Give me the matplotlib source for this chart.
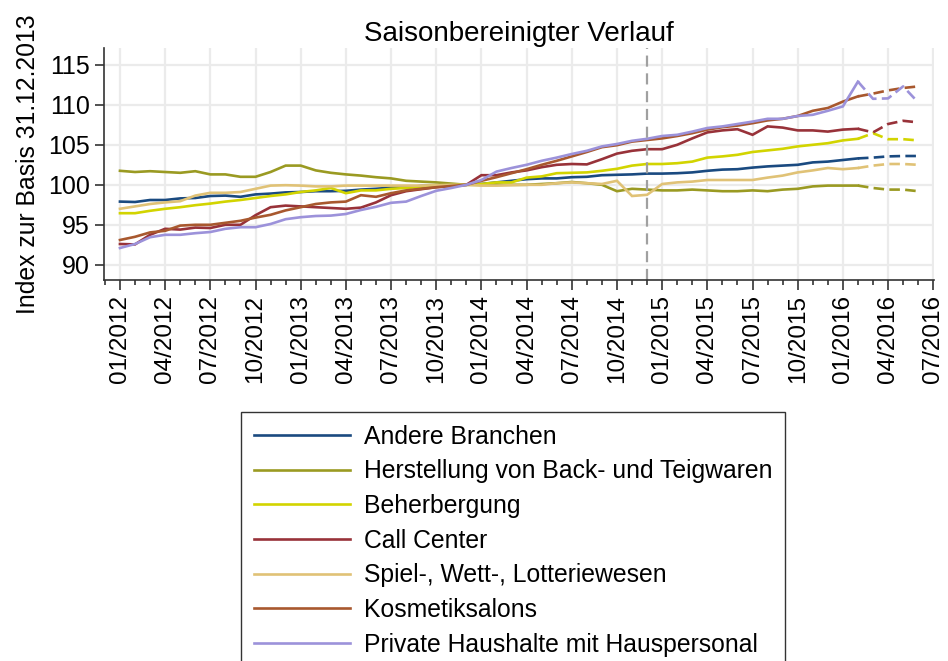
import matplotlib.pyplot as plt
from matplotlib.ticker import MultipleLocator

plt.rcParams['font.family'] = ['Liberation Sans', 'DejaVu Sans']

# Monate 01/2012 .. 06/2016 (Index 0..53), ab 02/2016 Prognose
n_months = 54
last_actual = 49
break_month = 35  # 12/2014

andere = [97.9, 97.85, 98.1, 98.1, 98.3, 98.35, 98.6, 98.65, 98.5, 98.8, 98.9, 99.05,
          99.1, 99.2, 99.2, 99.25, 99.4, 99.5, 99.65, 99.7, 99.85, 99.9, 99.95, 100.0,
          100.1, 100.3, 100.5, 100.7, 100.8, 100.8, 100.95, 101.0, 101.2, 101.25, 101.3, 101.4,
          101.4, 101.45, 101.55, 101.75, 101.9, 101.95, 102.15, 102.3, 102.4, 102.5, 102.8, 102.9,
          103.1, 103.3, 103.4, 103.55, 103.6, 103.6]
backwaren = [101.75, 101.6, 101.7, 101.6, 101.5, 101.7, 101.3, 101.3, 101.0, 101.0, 101.6, 102.4,
             102.4, 101.8, 101.5, 101.3, 101.15, 100.95, 100.8, 100.5, 100.4, 100.3, 100.15, 100.0,
             100.0, 100.0, 100.0, 100.0, 100.1, 100.2, 100.35, 100.2, 100.0, 99.2, 99.5, 99.4,
             99.3, 99.3, 99.4, 99.3, 99.2, 99.2, 99.3, 99.2, 99.4, 99.5, 99.8, 99.9,
             99.9, 99.9, 99.6, 99.4, 99.4, 99.2]
beherbergung = [96.45, 96.45, 96.75, 97.0, 97.2, 97.45, 97.65, 97.9, 98.1, 98.35, 98.6, 98.8,
                99.1, 99.3, 99.6, 98.95, 99.3, 99.3, 99.5, 99.6, 99.75, 99.9, 99.95, 100.0,
                100.1, 100.3, 100.3, 100.9, 101.05, 101.45, 101.5, 101.55, 101.75, 102.0, 102.4, 102.6,
                102.6, 102.7, 102.9, 103.4, 103.55, 103.75, 104.1, 104.3, 104.5, 104.8, 105.0, 105.2,
                105.55, 105.75, 106.45, 105.7, 105.7, 105.55]
callcenter = [92.6, 92.55, 93.75, 94.5, 94.4, 94.65, 94.6, 95.0, 95.0, 96.2, 97.2, 97.4,
              97.3, 97.2, 97.1, 97.0, 97.15, 97.8, 98.7, 99.2, 99.45, 99.7, 99.85, 100.0,
              101.2, 101.2, 101.55, 101.8, 102.2, 102.5, 102.6, 102.55, 103.2, 103.9, 104.25, 104.45,
              104.45, 105.0, 105.8, 106.55, 106.8, 106.95, 106.25, 107.3, 107.15, 106.8, 106.8, 106.65,
              106.9, 107.0, 106.55, 107.6, 108.0, 107.8]
spiel = [97.0, 97.3, 97.6, 97.8, 97.95, 98.65, 99.0, 99.0, 99.1, 99.5, 99.9, 99.95,
         99.9, 99.8, 99.8, 99.9, 99.9, 99.9, 99.9, 99.9, 99.9, 99.95, 100.0, 100.0,
         99.9, 99.9, 99.95, 100.0, 100.0, 100.2, 100.3, 100.2, 100.1, 100.5, 98.6, 98.75,
         100.1, 100.3, 100.4, 100.6, 100.6, 100.6, 100.6, 100.9, 101.15, 101.55, 101.8, 102.1,
         101.95, 102.1, 102.4, 102.6, 102.6, 102.5]
kosmetik = [93.1, 93.5, 94.05, 94.25, 94.9, 95.0, 95.0, 95.25, 95.5, 95.9, 96.25, 96.8,
            97.2, 97.6, 97.8, 97.9, 98.7, 98.5, 98.95, 99.3, 99.5, 99.7, 99.85, 100.0,
            100.5, 100.95, 101.45, 101.95, 102.5, 103.0, 103.55, 104.1, 104.7, 104.95, 105.4, 105.6,
            105.8, 106.1, 106.45, 106.9, 107.2, 107.4, 107.7, 108.05, 108.25, 108.6, 109.25, 109.6,
            110.4, 111.05, 111.4, 111.8, 112.1, 112.3]
haushalte = [92.1, 92.6, 93.45, 93.75, 93.75, 93.95, 94.1, 94.5, 94.7, 94.7, 95.1, 95.7,
             95.95, 96.1, 96.15, 96.35, 96.85, 97.25, 97.75, 97.9, 98.6, 99.25, 99.6, 100.0,
             100.6, 101.65, 102.1, 102.5, 103.0, 103.4, 103.85, 104.25, 104.8, 105.1, 105.5, 105.75,
             106.1, 106.25, 106.65, 107.1, 107.3, 107.6, 107.9, 108.25, 108.25, 108.6, 108.75, 109.25,
             109.8, 112.9, 110.75, 110.8, 112.3, 110.3]

series = [
    ("Andere Branchen", andere, "#1a4a80"),
    ("Herstellung von Back- und Teigwaren", backwaren, "#9a9a22"),
    ("Beherbergung", beherbergung, "#d2d400"),
    ("Call Center", callcenter, "#983239"),
    ("Spiel-, Wett-, Lotteriewesen", spiel, "#e0c276"),
    ("Kosmetiksalons", kosmetik, "#a8582e"),
    ("Private Haushalte mit Hauspersonal", haushalte, "#9c92da"),
]

tick_labels = ["01/2012", "04/2012", "07/2012", "10/2012", "01/2013", "04/2013", "07/2013",
               "10/2013", "01/2014", "04/2014", "07/2014", "10/2014", "01/2015", "04/2015",
               "07/2015", "10/2015", "01/2016", "04/2016", "07/2016"]

fig = plt.figure(figsize=(9.48, 6.61), dpi=100)
ax = fig.add_axes([104 / 948, 1 - 280 / 661, 830 / 948, 232 / 661])

months = list(range(n_months))
for name, vals, col in series:
    ax.plot(months[:last_actual + 1], vals[:last_actual + 1], color=col, lw=1.9,
            label=name, solid_joinstyle='miter')
    ax.plot(months[last_actual:], vals[last_actual:], color=col, lw=1.9,
            linestyle=(0, (4, 2)))

ax.axvline(break_month, color='#a0a0a0', lw=1.6, linestyle=(0, (5, 3)))

ax.set_xlim(-1.06, 54.05)
ax.set_ylim(88.1, 117.1)
ax.set_xticks(range(0, 55, 3))
ax.set_xticklabels(tick_labels, rotation=90, fontsize=17.5)
ax.xaxis.set_minor_locator(MultipleLocator(1))
ax.set_yticks([90, 95, 100, 105, 110, 115])
ax.tick_params(axis='y', labelsize=18, length=6.5, width=1.2, color='#333333', pad=3.5)
ax.tick_params(axis='x', which='major', length=7, width=1.2, color='#333333', pad=3.5)
ax.tick_params(axis='x', which='minor', length=3.6, width=1.2, color='#333333')

ax.grid(True, color='#ebebeb', lw=1.6)
ax.set_axisbelow(True)
for s in ['top', 'right']:
    ax.spines[s].set_visible(False)
for s in ['left', 'bottom']:
    ax.spines[s].set_color('#333333')
    ax.spines[s].set_linewidth(1.2)

ax.set_title("Saisonbereinigter Verlauf", fontsize=20, pad=5)
ax.set_ylabel("Index zur Basis 31.12.2013", fontsize=17.8, labelpad=6)

leg = fig.legend(loc='upper left', bbox_to_anchor=(241 / 948, 1 - 412 / 661),
                 borderaxespad=0, fontsize=17.8, frameon=True, fancybox=False,
                 handlelength=3.9, handletextpad=0.56, labelspacing=0.43, borderpad=0.52)
leg.get_frame().set_edgecolor('black')
leg.get_frame().set_linewidth(1.0)
for h in leg.get_lines():
    h.set_linewidth(1.9)

fig.savefig("out.png", dpi=100)
